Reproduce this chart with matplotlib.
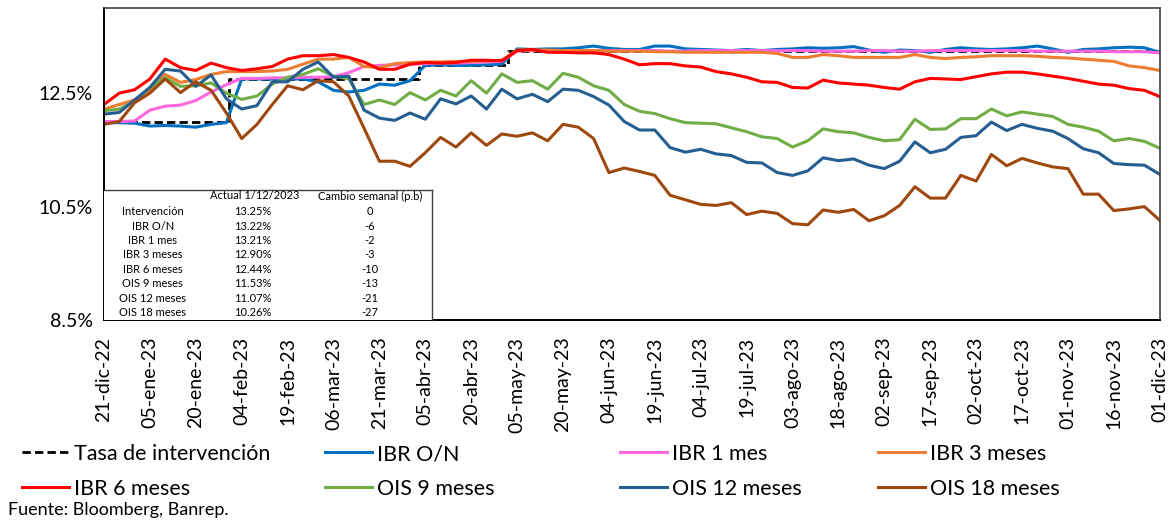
import matplotlib
matplotlib.use('Agg')
import matplotlib.pyplot as plt
import pandas as pd

plt.rcParams['font.family'] = ['Lato', 'DejaVu Sans']

# fechas de muestreo (cada 5 dias) y series en %
fechas = pd.date_range('2022-12-21', '2023-12-01', freq='5D')

tasa_fechas = pd.to_datetime(['2022-12-21', '2023-01-31', '2023-04-03', '2023-05-02', '2023-12-01'])
tasa_vals = [12.00, 12.75, 13.00, 13.25, 13.25]

ibr_on = [11.98, 11.98, 11.97, 11.92, 11.93, 11.92, 11.90, 11.95, 11.98, 12.75, 12.75, 12.75, 12.75, 12.75, 12.70,
          12.55, 12.52, 12.55, 12.66, 12.64, 12.72, 12.99, 13.00, 12.99, 12.99, 13.00, 13.01, 13.28, 13.27,
          13.28, 13.28, 13.30, 13.33, 13.29, 13.27, 13.27, 13.33, 13.33, 13.28, 13.27, 13.26, 13.25, 13.27, 13.25,
          13.27, 13.28, 13.30, 13.29, 13.30, 13.32, 13.26, 13.22, 13.26, 13.25, 13.22, 13.27, 13.30, 13.28, 13.27,
          13.28, 13.30, 13.33, 13.28, 13.22, 13.27, 13.28, 13.30, 13.31, 13.30, 13.22]
ibr_1m = [12.00, 12.00, 12.01, 12.20, 12.27, 12.29, 12.37, 12.52, 12.65, 12.76, 12.76, 12.77, 12.77, 12.78, 12.78,
          12.79, 12.86, 12.97, 12.99, 13.00, 13.01, 13.02, 13.03, 13.03, 13.04, 13.05, 13.06, 13.24, 13.25,
          13.25, 13.25, 13.25, 13.25, 13.25, 13.25, 13.25, 13.25, 13.24, 13.24, 13.25, 13.25, 13.25, 13.25, 13.25,
          13.25, 13.25, 13.25, 13.24, 13.24, 13.24, 13.25, 13.25, 13.24, 13.24, 13.25, 13.25, 13.25, 13.25, 13.25,
          13.25, 13.25, 13.24, 13.24, 13.24, 13.24, 13.24, 13.23, 13.23, 13.23, 13.21]
ibr_3m = [12.22, 12.30, 12.38, 12.55, 12.83, 12.69, 12.74, 12.83, 12.88, 12.88, 12.88, 12.89, 12.92, 13.01, 13.10,
          13.10, 13.13, 12.97, 12.95, 13.02, 13.04, 13.05, 13.05, 13.06, 13.06, 13.07, 13.08, 13.26, 13.26,
          13.26, 13.25, 13.25, 13.25, 13.24, 13.24, 13.24, 13.23, 13.23, 13.22, 13.22, 13.22, 13.22, 13.22, 13.22,
          13.20, 13.13, 13.13, 13.18, 13.16, 13.13, 13.13, 13.13, 13.13, 13.18, 13.13, 13.11, 13.13, 13.14, 13.16,
          13.16, 13.16, 13.15, 13.13, 13.12, 13.10, 13.08, 13.06, 12.98, 12.95, 12.90]
ibr_6m = [12.30, 12.50, 12.56, 12.75, 13.10, 12.95, 12.90, 13.03, 12.95, 12.90, 12.93, 12.97, 13.10, 13.16, 13.16,
          13.18, 13.13, 13.05, 12.92, 12.92, 13.01, 13.04, 13.03, 13.04, 13.08, 13.08, 13.07, 13.25, 13.27,
          13.22, 13.22, 13.21, 13.21, 13.18, 13.10, 13.00, 13.02, 13.02, 12.98, 12.96, 12.88, 12.84, 12.78, 12.70,
          12.69, 12.60, 12.59, 12.73, 12.68, 12.66, 12.64, 12.60, 12.57, 12.70, 12.76, 12.75, 12.74, 12.79, 12.84,
          12.87, 12.87, 12.84, 12.80, 12.76, 12.71, 12.66, 12.64, 12.58, 12.55, 12.44]
ois_9m = [12.19, 12.22, 12.36, 12.60, 12.77, 12.62, 12.63, 12.68, 12.50, 12.39, 12.45, 12.66, 12.78, 12.83, 12.93,
          12.80, 12.75, 12.30, 12.38, 12.30, 12.51, 12.38, 12.55, 12.45, 12.72, 12.50, 12.84, 12.69, 12.72,
          12.57, 12.85, 12.78, 12.63, 12.55, 12.30, 12.18, 12.14, 12.05, 11.98, 11.97, 11.96, 11.89, 11.82, 11.73,
          11.70, 11.55, 11.66, 11.87, 11.82, 11.80, 11.72, 11.66, 11.68, 12.04, 11.86, 11.87, 12.05, 12.05, 12.22,
          12.10, 12.17, 12.13, 12.09, 11.95, 11.90, 11.83, 11.66, 11.70, 11.65, 11.53]
ois_12m = [12.13, 12.16, 12.38, 12.60, 12.92, 12.89, 12.62, 12.82, 12.40, 12.22, 12.28, 12.70, 12.70, 12.92, 13.05,
           12.78, 12.80, 12.20, 12.06, 12.02, 12.15, 12.04, 12.40, 12.31, 12.45, 12.22, 12.57, 12.40, 12.48,
           12.35, 12.57, 12.55, 12.44, 12.29, 12.00, 11.85, 11.85, 11.54, 11.46, 11.51, 11.43, 11.40, 11.28, 11.27,
           11.10, 11.05, 11.13, 11.36, 11.31, 11.34, 11.23, 11.17, 11.30, 11.64, 11.45, 11.51, 11.72, 11.75, 11.99,
           11.84, 11.95, 11.88, 11.83, 11.70, 11.52, 11.45, 11.26, 11.24, 11.23, 11.07]
ois_18m = [11.95, 12.00, 12.33, 12.50, 12.75, 12.51, 12.70, 12.55, 12.15, 11.70, 11.95, 12.30, 12.63, 12.56, 12.72,
           12.70, 12.45, 11.88, 11.30, 11.30, 11.21, 11.45, 11.72, 11.55, 11.80, 11.58, 11.78, 11.74, 11.80,
           11.66, 11.95, 11.90, 11.70, 11.10, 11.18, 11.12, 11.05, 10.70, 10.62, 10.54, 10.52, 10.57, 10.36, 10.42,
           10.38, 10.20, 10.18, 10.44, 10.40, 10.45, 10.25, 10.34, 10.52, 10.85, 10.65, 10.65, 11.05, 10.95, 11.42,
           11.22, 11.35, 11.27, 11.20, 11.17, 10.72, 10.72, 10.43, 10.46, 10.50, 10.26]

# tabla resumen
tabla_series = ['Intervención', 'IBR O/N', 'IBR 1 mes', 'IBR 3 meses', 'IBR 6 meses',
                'OIS 9 meses', 'OIS 12 meses', 'OIS 18 meses']
tabla_actual = [13.25, 13.22, 13.21, 12.90, 12.44, 11.53, 11.07, 10.26]
tabla_cambio = [0, -6, -2, -3, -10, -13, -21, -27]

meses = ['ene', 'feb', 'mar', 'abr', 'may', 'jun', 'jul', 'ago', 'sep', 'oct', 'nov', 'dic']

fig = plt.figure(figsize=(11.75, 5.23), dpi=100)
ax = fig.add_axes([0.0885, 0.388, 0.8985, 0.5966])

lw = 2.2
h_tasa, = ax.plot(tasa_fechas, tasa_vals, color='black', lw=2, ls=(0, (3, 1.5)), drawstyle='steps-post')
series = [
    ('IBR O/N', ibr_on, '#0070C0'),
    ('IBR 1 mes', ibr_1m, '#FF66E0'),
    ('IBR 3 meses', ibr_3m, '#ED7D31'),
    ('IBR 6 meses', ibr_6m, '#FF0000'),
    ('OIS 9 meses', ois_9m, '#70AD47'),
    ('OIS 12 meses', ois_12m, '#255E91'),
    ('OIS 18 meses', ois_18m, '#9E480E'),
]
handles = [h_tasa]
labels = ['Tasa de intervención']
for nombre, vals, color in series:
    h, = ax.plot(fechas, vals, color=color, lw=lw)
    handles.append(h)
    labels.append(nombre)

ax.set_xlim(pd.Timestamp('2022-12-21'), pd.Timestamp('2023-12-01'))
ax.set_ylim(8.5, 14.0)
ax.set_yticks([8.5, 10.5, 12.5])
ax.set_yticklabels(['%.1f%%' % v for v in [8.5, 10.5, 12.5]])

ticks = pd.date_range('2022-12-21', '2023-12-01', freq='15D')
ax.set_xticks(ticks)
ax.set_xticklabels(['%02d-%s-%s' % (d.day, meses[d.month - 1], str(d.year)[2:]) for d in ticks], rotation=90)
ax.tick_params(axis='x', length=0, pad=12, labelsize=14)
ax.tick_params(axis='y', length=0, pad=8, labelsize=14)

for s in ['left', 'bottom']:
    ax.spines[s].set_color('black')
    ax.spines[s].set_linewidth(1.4)
for s in ['top', 'right']:
    ax.spines[s].set_color('#404040')
    ax.spines[s].set_linewidth(1.2)

# tabla dentro del grafico
tax = fig.add_axes([0.0885, 0.388, 0.2792, 0.2487])
tax.set_facecolor('white')
tax.set_xticks([])
tax.set_yticks([])
tax.set_xlim(0, 1)
tax.set_ylim(0, 1)
for s in ['left', 'bottom']:
    tax.spines[s].set_visible(False)
for s in ['top', 'right']:
    tax.spines[s].set_color('#404040')
    tax.spines[s].set_linewidth(1)

tax.text(0.46, 0.954, 'Actual 1/12/2023', ha='center', va='center', fontsize=8)
tax.text(0.811, 0.954, 'Cambio semanal (p.b)', ha='center', va='center', fontsize=8)
for i, nombre in enumerate(tabla_series):
    yy = 0.833 - i * 0.1106
    tax.text(0.149, yy, nombre, ha='center', va='center', fontsize=8)
    tax.text(0.454, yy, '%.2f%%' % tabla_actual[i], ha='center', va='center', fontsize=8)
    tax.text(0.811, yy, '%d' % tabla_cambio[i], ha='center', va='center', fontsize=8)

# leyenda en 4 columnas
col_x = [22, 325, 620, 878]
for j in range(4):
    fig.legend([handles[j], handles[j + 4]], [labels[j], labels[j + 4]],
               loc='upper left', bbox_to_anchor=(col_x[j] / 1175, 0.151),
               frameon=False, fontsize=15.5, handlelength=2.2, handletextpad=0.2,
               borderpad=0, borderaxespad=0, labelspacing=0.68)

fig.text(0.007, 0.025, 'Fuente: Bloomberg, Banrep.', fontsize=13, va='center')

plt.savefig('out.png', dpi=100)
